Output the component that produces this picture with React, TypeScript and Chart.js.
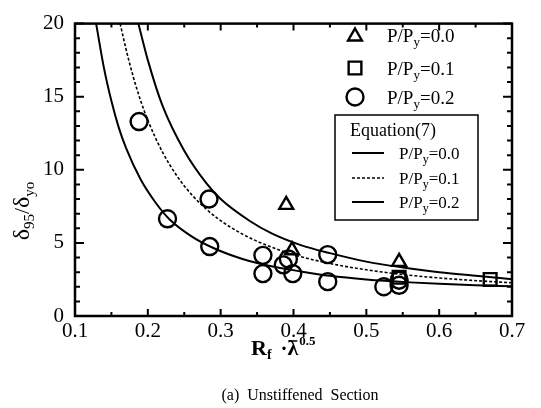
import { useEffect, useRef } from "react";
import { Chart, registerables } from "chart.js";

Chart.register(...registerables);

// Axis ticks
const X_TICKS = [0.1, 0.2, 0.3, 0.4, 0.5, 0.6, 0.7];
const Y_TICKS = [0, 5, 10, 15, 20];

// Test results, P/Py = 0.0 (triangles)
const TRI_X = [0.39, 0.398, 0.545];
const TRI_Y = [7.6, 4.5, 3.7];

// Test results, P/Py = 0.1 (squares)
const SQ_X = [0.545, 0.67];
const SQ_Y = [2.65, 2.5];

// Test results, P/Py = 0.2 (circles)
const CIR_X = [0.188, 0.227, 0.284, 0.285, 0.358, 0.358, 0.386, 0.393, 0.399, 0.447, 0.447, 0.524, 0.545, 0.545];
const CIR_Y = [13.3, 6.65, 8.0, 4.75, 4.15, 2.9, 3.5, 3.9, 2.9, 4.2, 2.35, 2.0, 2.45, 2.1];

// Equation (7) curves
const EQ0_X = [0.187, 0.2, 0.22, 0.25, 0.28, 0.3, 0.34, 0.37, 0.41, 0.45, 0.5, 0.55, 0.6, 0.65, 0.7];
const EQ0_Y = [20, 17.5, 14.4, 11.3, 9.1, 8.0, 6.5, 5.65, 4.85, 4.3, 3.72, 3.32, 3.0, 2.75, 2.52];

const EQ1_X = [0.162, 0.17, 0.18, 0.19, 0.2, 0.22, 0.24, 0.26, 0.28, 0.3, 0.33, 0.36, 0.4, 0.45, 0.5, 0.55, 0.6, 0.65, 0.7];
const EQ1_Y = [20, 18.26, 16.36, 14.75, 13.39, 11.22, 9.58, 8.31, 7.32, 6.52, 5.6, 4.9, 4.2, 3.59, 3.16, 2.84, 2.6, 2.42, 2.27];

const EQ2_X = [0.129, 0.14, 0.15, 0.16, 0.17, 0.19, 0.21, 0.23, 0.26, 0.29, 0.33, 0.37, 0.41, 0.45, 0.5, 0.56, 0.6, 0.65, 0.7];
const EQ2_Y = [20, 16.9, 14.7, 12.9, 11.5, 9.35, 7.8, 6.6, 5.45, 4.65, 3.9, 3.4, 3.05, 2.75, 2.5, 2.3, 2.2, 2.1, 2.03];

const LOAD_LABELS = ["0.0", "0.1", "0.2"];

const FONT = "'Liberation Serif', 'Times New Roman', Times, serif";

const pts = (xs: number[], ys: number[]) => xs.map((x, i) => ({ x, y: ys[i] }));

type Part = [string, number, number, boolean?];

// Draws a run of text pieces (normal, sub- or superscript) and returns the end x.
function drawRich(ctx: CanvasRenderingContext2D, x: number, y: number, parts: Part[]) {
  let cx = x;
  for (const [t, size, dy, bold] of parts) {
    ctx.font = `${bold ? "bold " : ""}${size}px ${FONT}`;
    ctx.fillText(t, cx, y + dy);
    cx += ctx.measureText(t).width;
  }
  return cx;
}

function richWidth(ctx: CanvasRenderingContext2D, parts: Part[]) {
  let w = 0;
  for (const [t, size, , bold] of parts) {
    ctx.font = `${bold ? "bold " : ""}${size}px ${FONT}`;
    w += ctx.measureText(t).width;
  }
  return w;
}

function marker(ctx: CanvasRenderingContext2D, kind: string, x: number, y: number, r: number) {
  ctx.beginPath();
  if (kind === "triangle") {
    let a = 0;
    ctx.moveTo(x + Math.sin(a) * r, y - Math.cos(a) * r);
    a += (2 * Math.PI) / 3;
    ctx.lineTo(x + Math.sin(a) * r, y - Math.cos(a) * r);
    a += (2 * Math.PI) / 3;
    ctx.lineTo(x + Math.sin(a) * r, y - Math.cos(a) * r);
    ctx.closePath();
  } else if (kind === "rect") {
    const s = r / Math.SQRT2;
    ctx.rect(x - s, y - s, 2 * s, 2 * s);
  } else {
    ctx.arc(x, y, r, 0, Math.PI * 2);
  }
  ctx.stroke();
}

const decorations = {
  id: "decorations",
  afterDraw(chart: any) {
    const ctx: CanvasRenderingContext2D = chart.ctx;
    const { left, right, top, bottom } = chart.chartArea;
    const xs = chart.scales.x;
    const ys = chart.scales.y;
    ctx.save();
    ctx.strokeStyle = "#000";
    ctx.fillStyle = "#000";

    // frame
    ctx.lineWidth = 2.5;
    ctx.strokeRect(left, top, right - left, bottom - top);

    // inward ticks on all four sides
    ctx.lineWidth = 2;
    ctx.beginPath();
    for (let i = 0; i <= 12; i++) {
      const v = 0.1 + i * 0.05;
      const px = xs.getPixelForValue(v);
      const len = i % 2 === 0 ? 7 : 4;
      ctx.moveTo(px, bottom);
      ctx.lineTo(px, bottom - len);
      ctx.moveTo(px, top);
      ctx.lineTo(px, top + len);
    }
    for (let v = 0; v <= 20; v++) {
      const py = ys.getPixelForValue(v);
      const len = v % 5 === 0 ? 9 : 5;
      ctx.moveTo(left, py);
      ctx.lineTo(left + len, py);
      ctx.moveTo(right, py);
      ctx.lineTo(right - len, py);
    }
    ctx.stroke();

    // marker legend
    ctx.textBaseline = "alphabetic";
    ctx.textAlign = "left";
    const kinds = ["triangle", "rect", "circle"];
    const radii = [8, 9, 8.5];
    const rowsY = [35, 68, 97];
    kinds.forEach((k, i) => {
      ctx.lineWidth = 2.4;
      marker(ctx, k, 355, rowsY[i] + (k === "triangle" ? 1.5 : 0), radii[i]);
      drawRich(ctx, 387, rowsY[i] + 6.5, [
        ["P/P", 19, 0],
        ["y", 13, 4],
        ["=" + LOAD_LABELS[i], 19, 0],
      ]);
    });

    // equation legend box
    ctx.lineWidth = 1.5;
    ctx.fillStyle = "#fff";
    ctx.fillRect(335, 115, 143, 105);
    ctx.strokeRect(335, 115, 143, 105);
    ctx.fillStyle = "#000";
    drawRich(ctx, 350, 136, [["Equation(7)", 18, 0]]);
    const lineY = [153, 178, 202];
    lineY.forEach((ly, i) => {
      ctx.beginPath();
      if (i === 1) {
        ctx.setLineDash([3, 2]);
        ctx.lineWidth = 1.6;
      } else {
        ctx.setLineDash([]);
        ctx.lineWidth = 2;
      }
      ctx.moveTo(352, ly);
      ctx.lineTo(384, ly);
      ctx.stroke();
      ctx.setLineDash([]);
      drawRich(ctx, 399, ly + 6, [
        ["P/P", 17, 0],
        ["y", 12, 4],
        ["=" + LOAD_LABELS[i], 17, 0],
      ]);
    });

    // x axis title: R_f · λ̄^0.5
    let cx = drawRich(ctx, 251, 355, [["R", 22, 0, true], ["f", 14, 4, true]]);
    cx += 9;
    cx = drawRich(ctx, cx, 355, [["·", 21, 0, true]]);
    const lamX = cx;
    cx = drawRich(ctx, cx, 355, [["λ", 22, 0, true]]);
    ctx.lineWidth = 1.5;
    ctx.beginPath();
    ctx.moveTo(lamX + 1, 341);
    ctx.lineTo(cx - 1, 341);
    ctx.stroke();
    drawRich(ctx, cx + 1, 355, [["0.5", 13, -10, true]]);

    // y axis title: δ95/δyo
    const yParts: Part[] = [
      ["δ", 24, 0],
      ["95", 15, 5],
      ["/", 22, 0],
      ["δ", 24, 0],
      ["yo", 15, 5],
    ];
    ctx.save();
    ctx.translate(29, 211);
    ctx.rotate(-Math.PI / 2);
    drawRich(ctx, -richWidth(ctx, yParts) / 2, 0, yParts);
    ctx.restore();

    // caption
    ctx.textAlign = "center";
    ctx.font = `16px ${FONT}`;
    ctx.fillText("(a)  Unstiffened  Section", 300, 400);

    ctx.restore();
  },
};

export default function App() {
  const ref = useRef<HTMLCanvasElement | null>(null);

  useEffect(() => {
    if (!ref.current) return;
    const solid = { borderColor: "#000", borderWidth: 2, pointRadius: 0, showLine: true, fill: false, cubicInterpolationMode: "monotone" as const };
    const hollow = { borderColor: "#000", backgroundColor: "rgba(0,0,0,0)", borderWidth: 2.4, showLine: false };
    const tickFont = {
      color: "#000",
      font: { family: FONT, size: 21 },
      autoSkip: false,
    };
    const chart = new Chart(ref.current, {
      type: "scatter",
      data: {
        datasets: [
          { label: "Eq P/Py=0.0", data: pts(EQ0_X, EQ0_Y), ...solid },
          { label: "Eq P/Py=0.1", data: pts(EQ1_X, EQ1_Y), ...solid, borderWidth: 1.6, borderDash: [3, 2] },
          { label: "Eq P/Py=0.2", data: pts(EQ2_X, EQ2_Y), ...solid },
          { label: "P/Py=0.0", data: pts(TRI_X, TRI_Y), ...hollow, pointStyle: "triangle", pointRadius: 8 },
          { label: "P/Py=0.1", data: pts(SQ_X, SQ_Y), ...hollow, pointStyle: "rect", pointRadius: 9 },
          { label: "P/Py=0.2", data: pts(CIR_X, CIR_Y), ...hollow, pointStyle: "circle", pointRadius: 8.5 },
        ],
      },
      options: {
        animation: false,
        responsive: false,
        devicePixelRatio: 1,
        layout: { padding: { top: 15, right: 29, left: 0, bottom: 0 } },
        plugins: { legend: { display: false }, tooltip: { enabled: false } },
        scales: {
          x: {
            type: "linear",
            min: 0.1,
            max: 0.7,
            afterBuildTicks: (s: any) => {
              s.ticks = X_TICKS.map((value) => ({ value }));
            },
            afterFit: (s: any) => {
              s.height = 92;
            },
            ticks: {
              ...tickFont,
              padding: 3,
              maxRotation: 0,
              callback: (v: any) => Number(v).toFixed(1),
            },
            grid: { display: false, drawTicks: false },
            border: { display: false },
          },
          y: {
            type: "linear",
            min: 0,
            max: 20,
            afterBuildTicks: (s: any) => {
              s.ticks = Y_TICKS.map((value) => ({ value }));
            },
            afterFit: (s: any) => {
              s.width = 75;
            },
            ticks: {
              ...tickFont,
              padding: 11,
            },
            grid: { display: false, drawTicks: false },
            border: { display: false },
          },
        },
      },
      plugins: [decorations],
    });
    return () => chart.destroy();
  }, []);

  return (
    <div style={{ position: "absolute", left: 0, top: 0, width: 541, height: 408, background: "#fff" }}>
      <canvas ref={ref} width={541} height={408} style={{ width: 541, height: 408 }} />
    </div>
  );
}
